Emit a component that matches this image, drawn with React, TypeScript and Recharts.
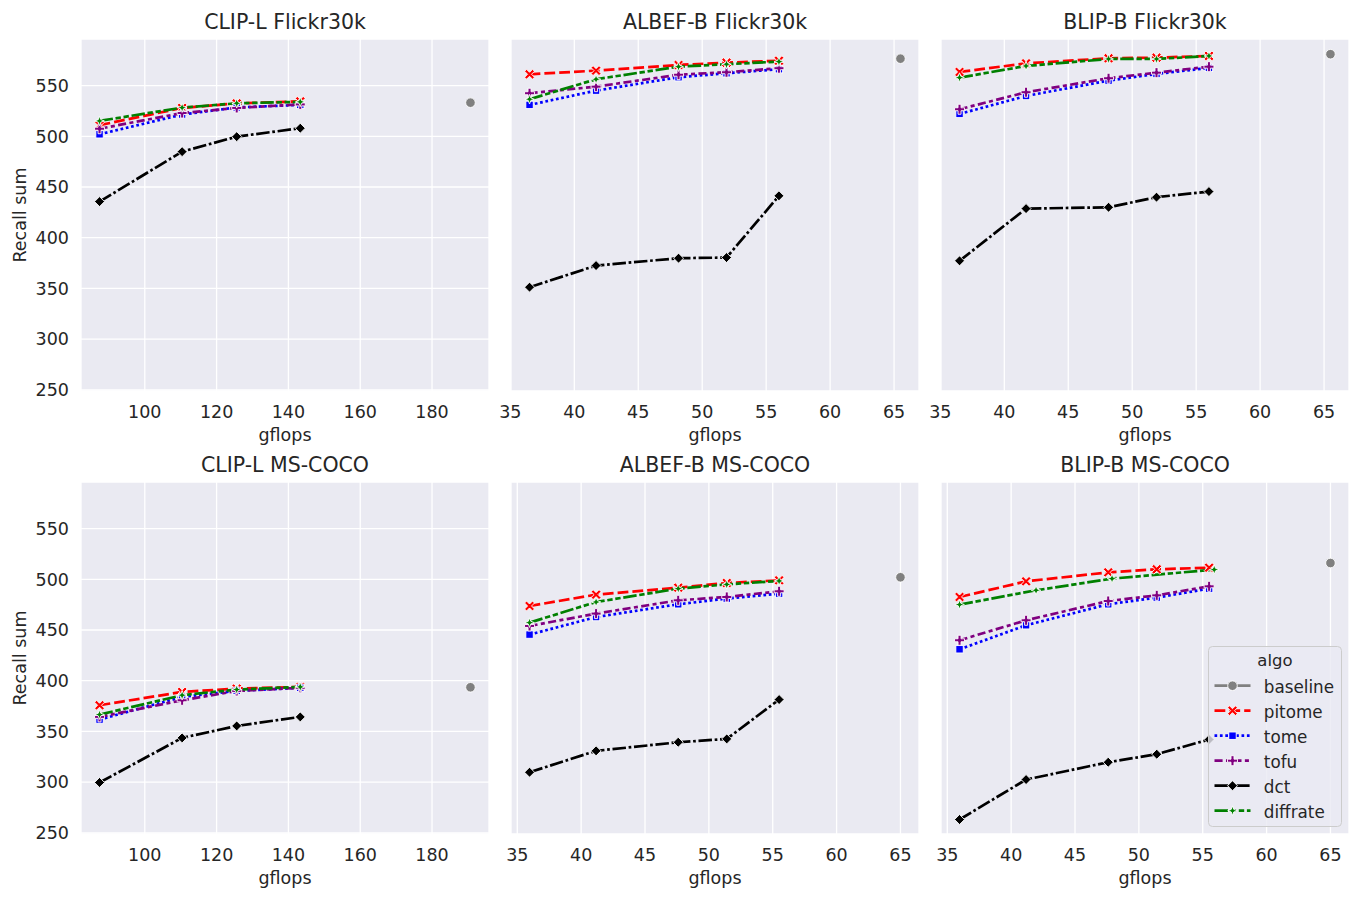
import React from 'react';
import { LineChart, Line, XAxis, YAxis, CartesianGrid, Legend, Label } from 'recharts';

// gflops on the x axis
const clipFlops = [87.4, 110.4, 125.6, 143.3];
const clipBaseFlops = [190.7];
const flickrFlops = [36.5, 41.7, 48.15, 51.9, 56.0];
const flickrBaseFlops = [65.5];
const cocoFlops = [35.96, 41.17, 47.6, 51.4, 55.5];
const cocoBaseFlops = [65.0];
const blipCocoDiffrateFlops = [35.96, 41.95, 47.9, 55.9];

const clipTicks = [100, 120, 140, 160, 180];
const vitTicks = [35, 40, 45, 50, 55, 60, 65];
const recallTicks = [250, 300, 350, 400, 450, 500, 550];

// recall sum per algo
const clipFlickr = {
  baseline: [533.2],
  pitome: [511, 528, 532.5, 534.5],
  tome: [502, 521.5, 528.5, 531],
  tofu: [507.5, 523, 528, 531.5],
  dct: [435.6, 484.9, 499.7, 508],
  diffrate: [515.2, 528.3, 532.6, 534],
};
const albefFlickr = {
  baseline: [576.6],
  pitome: [561.2, 564.8, 570.4, 572.7, 574.6],
  tome: [531, 545.1, 558.3, 562.2, 566.2],
  tofu: [542.5, 549, 560.8, 563.2, 567.2],
  dct: [351.2, 372.5, 379.8, 380.4, 441.3],
  diffrate: [536.6, 556.3, 568.7, 571.1, 573.7],
};
const blipFlickr = {
  baseline: [581],
  pitome: [563.5, 572, 577, 577.6, 579.3],
  tome: [522.1, 539.8, 555, 561.5, 567.5],
  tofu: [526.7, 543.5, 557.3, 562.8, 568.7],
  dct: [377.2, 428.7, 430, 440, 445.5],
  diffrate: [557.9, 569.4, 576.3, 576.3, 579.3],
};
const clipCoco = {
  baseline: [393.5],
  pitome: [375.8, 388.9, 392.2, 393.9],
  tome: [361.7, 384, 390, 393],
  tofu: [364.3, 380.7, 389.9, 393],
  dct: [299.6, 343.6, 355.4, 364.3],
  diffrate: [366.6, 385.7, 391.3, 393.9],
};
const albefCoco = {
  baseline: [502],
  pitome: [473.7, 484.9, 491.8, 496.4, 499],
  tome: [445.5, 462.8, 475.4, 481, 485.9],
  tofu: [454, 466.2, 479.3, 482.6, 488.2],
  dct: [309.7, 330.8, 339.3, 342.6, 381.4],
  diffrate: [457.3, 477.6, 490.8, 495, 498.4],
};
const blipCoco = {
  baseline: [516.1],
  pitome: [482.6, 498, 506.9, 509.9, 511.5],
  tome: [431, 454.7, 475.4, 482, 490.8],
  tofu: [439.9, 459.6, 478.6, 484.2, 493.1],
  dct: [263.1, 302.5, 319.6, 327.5, 342],
  diffrate: [475.1, 489.2, 500.7, 509.6],
};

const algos = ['baseline', 'pitome', 'tome', 'tofu', 'dct', 'diffrate'];

const LW = 2.7;
const styles: Record<string, { color: string; dash?: string; shape: string }> = {
  baseline: { color: '#808080', shape: 'circle' },
  pitome: { color: '#ff0000', dash: `${4 * LW} ${1.5 * LW}`, shape: 'x' },
  tome: { color: '#0000ff', dash: `${LW} ${LW}`, shape: 'square' },
  tofu: { color: '#800080', dash: `${3 * LW} ${1.25 * LW} ${1.5 * LW} ${1.25 * LW}`, shape: 'plus' },
  dct: { color: '#000000', dash: `${5 * LW} ${LW} ${LW} ${LW}`, shape: 'diamond' },
  diffrate: { color: '#008000', dash: `${5 * LW} ${LW} ${2 * LW} ${LW} ${2 * LW} ${LW}`, shape: 'star' },
};

const panels = [
  { title: 'CLIP-L Flickr30k', xs: clipFlops, baseXs: clipBaseFlops, recall: clipFlickr, ticks: clipTicks, row: 0, col: 0 },
  { title: 'ALBEF-B Flickr30k', xs: flickrFlops, baseXs: flickrBaseFlops, recall: albefFlickr, ticks: vitTicks, row: 0, col: 1 },
  { title: 'BLIP-B Flickr30k', xs: flickrFlops, baseXs: flickrBaseFlops, recall: blipFlickr, ticks: vitTicks, row: 0, col: 2 },
  { title: 'CLIP-L MS-COCO', xs: clipFlops, baseXs: clipBaseFlops, recall: clipCoco, ticks: clipTicks, row: 1, col: 0 },
  { title: 'ALBEF-B MS-COCO', xs: cocoFlops, baseXs: cocoBaseFlops, recall: albefCoco, ticks: vitTicks, row: 1, col: 1 },
  { title: 'BLIP-B MS-COCO', xs: cocoFlops, baseXs: cocoBaseFlops, recall: blipCoco, ticks: vitTicks, row: 1, col: 2, diffrateXs: blipCocoDiffrateFlops },
];

const TEXT = '#262626';
const FONT = 'DejaVu Sans';
const plotLefts = [81, 511, 941];
const plotTops = [39, 482];
const PW = 408;
const PH = 352;
const YW = 80;

const crossPoly = (h: number, w: number, rot: number) => {
  const pts = [[-w, -h], [w, -h], [w, -w], [h, -w], [h, w], [w, w], [w, h], [-w, h], [-w, w], [-h, w], [-h, -w], [-w, -w]];
  const c = Math.cos(rot), s = Math.sin(rot);
  return pts.map(([x, y]) => [x * c - y * s, x * s + y * c]);
};

const Marker = ({ shape, cx, cy, color }: { shape: string; cx: number; cy: number; color: string }) => {
  const edge = { stroke: '#ffffff', strokeWidth: 0.9, fill: color };
  const poly = (pts: number[][]) => pts.map(([x, y]) => `${cx + x},${cy + y}`).join(' ');
  if (shape === 'circle') return <circle cx={cx} cy={cy} r={4.8} {...edge} />;
  if (shape === 'square') return <rect x={cx - 3.7} y={cy - 3.7} width={7.4} height={7.4} {...edge} />;
  if (shape === 'diamond') return <polygon points={poly([[0, -5], [5, 0], [0, 5], [-5, 0]])} {...edge} />;
  if (shape === 'x') return <polygon points={poly(crossPoly(5.6, 1.4, Math.PI / 4))} {...edge} />;
  if (shape === 'plus') return <polygon points={poly(crossPoly(5, 1.5, 0))} {...edge} />;
  const R = 4.8, r = R * 0.38;
  const star = [0, 1, 2, 3, 4, 5, 6, 7].map((i) => {
    const a = (i * Math.PI) / 4 - Math.PI / 2;
    const rad = i % 2 === 0 ? R : r;
    return [rad * Math.cos(a), rad * Math.sin(a)];
  });
  return <polygon points={poly(star)} {...edge} />;
};

const dotFor = (algo: string) => (p: any) => (
  <Marker key={`${algo}-${p.index}`} shape={styles[algo].shape} cx={p.cx} cy={p.cy} color={styles[algo].color} />
);

const LegendBox = () => (
  <svg width={134} height={181} style={{ display: 'block', fontFamily: FONT }}>
    <rect x={0.5} y={0.5} width={133} height={180} rx={4} fill="#EAEAF2" fillOpacity={0.8} stroke="#cccccc" />
    <text x={67} y={19.5} textAnchor="middle" fontSize={16.5} fill={TEXT}>algo</text>
    {algos.map((a, i) => {
      const y = 39.7 + 25 * i;
      return (
        <g key={a}>
          <line x1={6.5} x2={42.5} y1={y} y2={y} stroke={styles[a].color} strokeWidth={LW} strokeDasharray={styles[a].dash} />
          <Marker shape={styles[a].shape} cx={24.5} cy={y} color={styles[a].color} />
          <text x={55.8} y={y + 7} fontSize={16.8} fill={TEXT}>{a}</text>
        </g>
      );
    })}
  </svg>
);

const padDomain = (vals: number[]): [number, number] => {
  const lo = Math.min(...vals), hi = Math.max(...vals);
  const pad = (hi - lo) * 0.05;
  return [lo - pad, hi + pad];
};

const Panel = ({ p }: { p: (typeof panels)[number] }) => {
  const left = plotLefts[p.col] - YW;
  const top = plotTops[p.row] - 39;
  const xDomain = padDomain([...p.xs, ...p.baseXs]);
  const rec = p.recall as Record<string, number[]>;
  const seriesData = (a: string) => {
    const xs = a === 'baseline' ? p.baseXs : a === 'diffrate' && p.diffrateXs ? p.diffrateXs : p.xs;
    return xs.map((x, i) => ({ x, y: rec[a][i] }));
  };
  const tickStyle = { fill: TEXT, fontSize: 17.5, fontFamily: FONT };
  return (
    <div style={{ position: 'absolute', left, top }}>
      <div
        style={{
          position: 'absolute', left: YW, top: 9.6, width: PW, textAlign: 'center',
          fontSize: 20.5, lineHeight: '24px', color: TEXT, fontFamily: FONT, zIndex: 2,
        }}
      >
        {p.title}
      </div>
      <LineChart width={YW + PW + 6} height={39 + PH + 70} margin={{ top: 39, right: 6, bottom: 0, left: 0 }}>
        <CartesianGrid fill="#EAEAF2" stroke="#ffffff" strokeWidth={1.3} />
        <XAxis
          type="number"
          dataKey="x"
          domain={xDomain}
          ticks={p.ticks}
          interval={0}
          allowDataOverflow
          axisLine={false}
          tickLine={false}
          tickSize={0}
          tickMargin={15}
          height={70}
          tick={tickStyle}
        >
          <Label
            content={(lp: any) => (
              <text x={lp.viewBox.x + lp.viewBox.width / 2} y={lp.viewBox.y + 49.5} textAnchor="middle" fontSize={17.5} fill={TEXT} fontFamily={FONT}>
                gflops
              </text>
            )}
          />
        </XAxis>
        <YAxis
          type="number"
          domain={[248.8, 596]}
          ticks={recallTicks}
          interval={0}
          allowDataOverflow
          axisLine={false}
          tickLine={false}
          tickSize={0}
          tickMargin={12}
          width={YW}
          tick={p.col === 0 ? tickStyle : false}
        >
          {p.col === 0 && (
            <Label
              content={(lp: any) => {
                const x = lp.viewBox.x + 24.5;
                const y = lp.viewBox.y + lp.viewBox.height / 2;
                return (
                  <text x={x} y={y} transform={`rotate(-90, ${x}, ${y})`} textAnchor="middle" fontSize={17.5} fill={TEXT} fontFamily={FONT}>
                    Recall sum
                  </text>
                );
              }}
            />
          )}
        </YAxis>
        {algos.map((a) => (
          <Line
            key={a}
            type="linear"
            data={seriesData(a)}
            dataKey="y"
            stroke={styles[a].color}
            strokeWidth={LW}
            strokeDasharray={styles[a].dash}
            dot={dotFor(a)}
            activeDot={false}
            isAnimationActive={false}
            legendType="none"
          />
        ))}
        {p.row === 1 && p.col === 2 && (
          <Legend
            layout="vertical"
            align="center"
            verticalAlign="middle"
            content={() => <LegendBox />}
            wrapperStyle={{ left: 1207.5 - left, top: 646 - top, width: 134, height: 181 }}
          />
        )}
      </LineChart>
    </div>
  );
};

export default function App() {
  return (
    <div style={{ position: 'absolute', left: 0, top: 0, width: 1362, height: 900, background: '#ffffff', fontFamily: FONT }}>
      {panels.map((p) => (
        <Panel key={p.title} p={p} />
      ))}
    </div>
  );
}
